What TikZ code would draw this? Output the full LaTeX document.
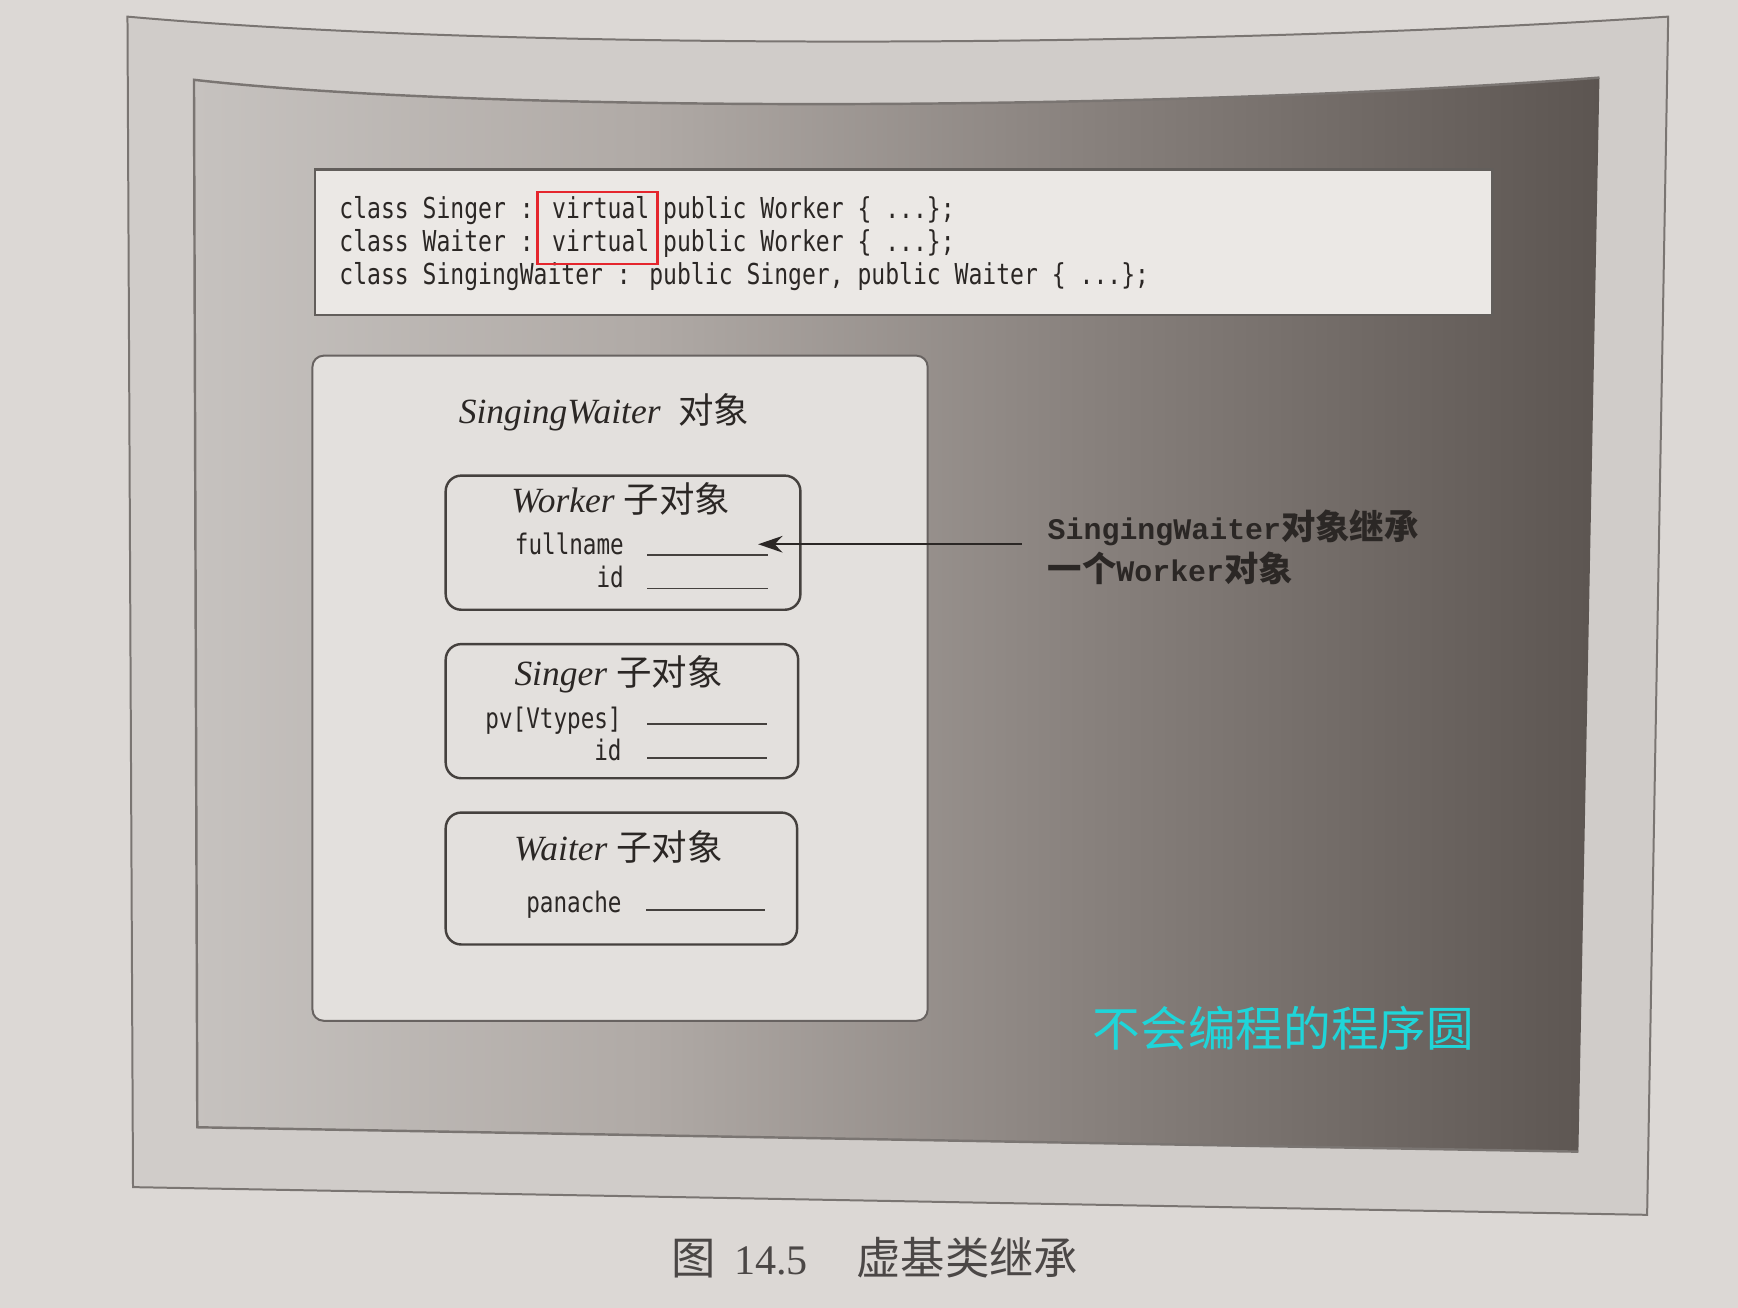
\documentclass[tikz,border=0pt]{standalone}
\usepackage{fontspec}
\usetikzlibrary{arrows.meta}
\setmainfont{Liberation Serif}
\newfontfamily\cjk{Noto Sans CJK SC}
\newfontfamily\codefont{DejaVu Sans Mono}[FakeStretch=0.8]
\newfontfamily\notefont{Liberation Mono}

\definecolor{paper}{HTML}{DCD8D5}
\definecolor{band}{HTML}{D0CCC9}
\definecolor{frameline}{HTML}{7A7572}
\definecolor{codefill}{HTML}{EBE8E5}
\definecolor{boxfill}{HTML}{E3E0DD}
\definecolor{boxline}{HTML}{45413E}
\definecolor{ink}{HTML}{2B2725}
\definecolor{pA}{HTML}{C6C2BF}
\definecolor{pB}{HTML}{B0AAA6}
\definecolor{pC}{HTML}{8A837F}
\definecolor{pD}{HTML}{5C5551}
\definecolor{mark}{HTML}{E5262D}
\definecolor{brand}{HTML}{1FD5D9}

% left-to-right darkening of the inner panel
\pgfdeclarehorizontalshading{panelshade}{100bp}{%
  color(0bp)=(pA); color(25bp)=(pA); color(41bp)=(pB);
  color(56bp)=(pC); color(75bp)=(pD); color(100bp)=(pD)}

\tikzset{
  codeline/.style={anchor=base west, inner sep=0, text=ink,
    font=\codefont\fontsize{26}{30}\selectfont},
  fieldlabel/.style={anchor=base east, inner sep=0, text=ink,
    font=\codefont\fontsize{25.5}{30}\selectfont},
  fieldline/.style={draw=boxline, line width=1.6pt},
  title/.style={anchor=base, inner sep=0, text=ink,
    font=\fontsize{32}{38}\selectfont},
  outerbox/.style={draw=frameline!85!black, line width=1.8pt, fill=boxfill,
    rounded corners=10pt, anchor=north west, inner sep=0},
  subbox/.style={draw=boxline, line width=2.2pt, fill=boxfill,
    rounded corners=14pt, anchor=north west, inner sep=0},
  codebox/.style={draw=frameline!80!black, line width=2.5pt, fill=codefill,
    anchor=north west, inner sep=0},
  redbox/.style={draw=mark, line width=2.4pt, anchor=north west, inner sep=0},
  pointer/.style={draw=ink, line width=2pt,
    -{Stealth[length=22pt, width=15pt]}},
  note/.style={anchor=base west, inner sep=0, text=ink,
    font=\notefont\bfseries\fontsize{27}{32}\selectfont},
}

\newcommand{\zh}[1]{{\cjk #1}}
\newcommand{\zhb}[1]{{\cjk\bfseries\fontsize{31}{36}\selectfont #1}}

\begin{document}
\begin{tikzpicture}[x=1pt, y=-1pt]
\useasboundingbox (0,0) rectangle (1568,1180);
\fill[paper] (0,0) rectangle (1568,1180);

% outer frame
\filldraw[fill=band, draw=frameline, line width=1.8pt]
  (115,15) .. controls (450,45) and (1050,45) .. (1505,15)
  -- (1486,1096) -- (120,1071) -- cycle;

% shaded inner panel
\shade[shading=panelshade]
  (175,72) .. controls (450,103) and (1050,100) .. (1443,70)
  -- (1424,1039) -- (178,1017) -- cycle;
\draw[frameline, line width=2.2pt]
  (1443,70) .. controls (1050,100) and (450,103) .. (175,72)
  -- (178,1017) -- (1424,1039);

% declarations
\node[codebox, minimum width=1062, minimum height=131] (code) at (283,152) {};
\node[codeline] (c1) at (306,197) {class Singer : virtual public Worker \{ ...\};};
\node[codeline] (c2) at (306,227) {class Waiter : virtual public Worker \{ ...\};};
\node[codeline] (c3) at (306,257) {class SingingWaiter : public Singer, public Waiter \{ ...\};};
\node[redbox, minimum width=108, minimum height=65] (virt) at (484,172) {};

% object layout
\node[outerbox, minimum width=555, minimum height=600] (sw) at (281,320) {};
\node[title] (swt) at (545,382) {\textit{SingingWaiter}\ \ \zh{对象}};

\node[subbox, minimum width=320, minimum height=121] (worker) at (401,428) {};
\node[title] (wt) at (560,462) {\textit{Worker}\ \zh{子对象}};
\node[fieldlabel] (wf1) at (563,500) {fullname};
\node[fieldlabel] (wf2) at (563,530) {id};
\draw[fieldline] (584,501) -- (693,501);
\draw[fieldline] (584,531) -- (693,531);

\node[subbox, minimum width=318, minimum height=121] (singer) at (401,580) {};
\node[title] (st) at (558,618) {\textit{Singer}\ \zh{子对象}};
\node[fieldlabel] (sf1) at (561,657) {pv[Vtypes]};
\node[fieldlabel] (sf2) at (561,686) {id};
\draw[fieldline] (584,653) -- (692,653);
\draw[fieldline] (584,684) -- (692,684);

\node[subbox, minimum width=317, minimum height=119] (waiter) at (401,732) {};
\node[title] (wat) at (558,776) {\textit{Waiter}\ \zh{子对象}};
\node[fieldlabel] (waf1) at (561,823) {panache};
\draw[fieldline] (583,821) -- (690,821);

% annotation
\coordinate (tail) at (922,491);
\coordinate (tip) at (684,491);
\draw[pointer] (tail) -- (tip);
\node[note] (n1) at (945,487) {SingingWaiter\zhb{对象继承}};
\node[note] (n2) at (945,525) {\zhb{一个}Worker\zhb{对象}};

% overlay text
\node[anchor=base, inner sep=0, text=brand,
  font=\cjk\fontsize{43}{50}\selectfont] (wm) at (1158,944) {不会编程的程序圆};

% caption
\node[anchor=base west, inner sep=0, text=ink!85!white,
  font=\fontsize{38}{44}\selectfont] (cap) at (606,1150)
  {{\cjk\fontsize{40}{44}\selectfont 图}\hspace{16pt}14.5\hspace{44pt}{\cjk\fontsize{40}{44}\selectfont 虚基类继承}};
\end{tikzpicture}
\end{document}
